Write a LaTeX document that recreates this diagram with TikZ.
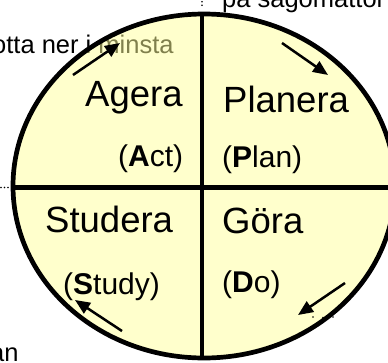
\documentclass[tikz,border=0pt]{standalone}
\usepackage{fontspec}
\setmainfont{Liberation Sans}
\usetikzlibrary{arrows.meta}
\definecolor{ellfill}{RGB}{255,255,153}
\begin{document}
\begin{tikzpicture}[x=1pt,y=-1pt,
  big/.style={anchor=base west, inner sep=0pt, font=\fontsize{36.5}{40}\selectfont},
  small/.style={anchor=base west, inner sep=0pt, font=\fontsize{30}{34}\selectfont},
  bgtext/.style={anchor=base west, inner sep=0pt, font=\fontsize{25.5}{28}\selectfont},
  cyc/.style={line width=2.5pt, -{Triangle[length=15pt,width=12.5pt]}},
  dotmark/.style={fill=black}]
\useasboundingbox (0,0) rectangle (388,362);
\clip (0,0) rectangle (388,362);
% background text (behind the ellipse)
\node[bgtext] (t1) at (-8,53) {otta ner i minsta};
\node[bgtext] (t2) at (222,7) {på sagomattor};
\node[bgtext] (t3) at (-10,361) {an};
% ellipse
\path[fill=ellfill, fill opacity=0.5] (204,186) ellipse [x radius=191, y radius=172];
\begin{scope}
  \clip (204,186) ellipse [x radius=191, y radius=172];
  \draw[line width=4.5pt] (202,0) -- (202,362);
  \draw[line width=4.5pt] (0,187.5) -- (400,187.5);
\end{scope}
\draw[line width=4.7pt] (204,186) ellipse [x radius=191, y radius=172];
% labels
\node[big] (agera) at (85,106) {Agera};
\node[big] (planera) at (223,112) {Planera};
\node[big] (studera) at (45,232) {Studera};
\node[big] (gora) at (222,233) {Göra};
\node[small] (act) at (118,166) {(\textbf{A}ct)};
\node[small] (plan) at (222,167) {(\textbf{P}lan)};
\node[small] (study) at (63,294) {(\textbf{S}tudy)};
\node[small] (do) at (222,292) {(\textbf{D}o)};
% cycle arrows
\coordinate (a1s) at (73,75);  \coordinate (a1e) at (120,43);
\coordinate (a2s) at (282,43); \coordinate (a2e) at (328,75);
\coordinate (a3s) at (345,283); \coordinate (a3e) at (298,315);
\coordinate (a4s) at (122,331); \coordinate (a4e) at (75,300);
\draw[cyc] (a1s) -- (a1e);
\draw[cyc] (a2s) -- (a2e);
\draw[cyc] (a3s) -- (a3e);
\draw[cyc] (a4s) -- (a4e);
% small selection dots
\foreach \p in {(202,1.8),(202,5.2),(1,187.5),(4.5,187.5),(8,187.5),(313,317),(323,317.5),(333,317)}
  \fill[dotmark] \p circle[radius=0.9];
\end{tikzpicture}
\end{document}
